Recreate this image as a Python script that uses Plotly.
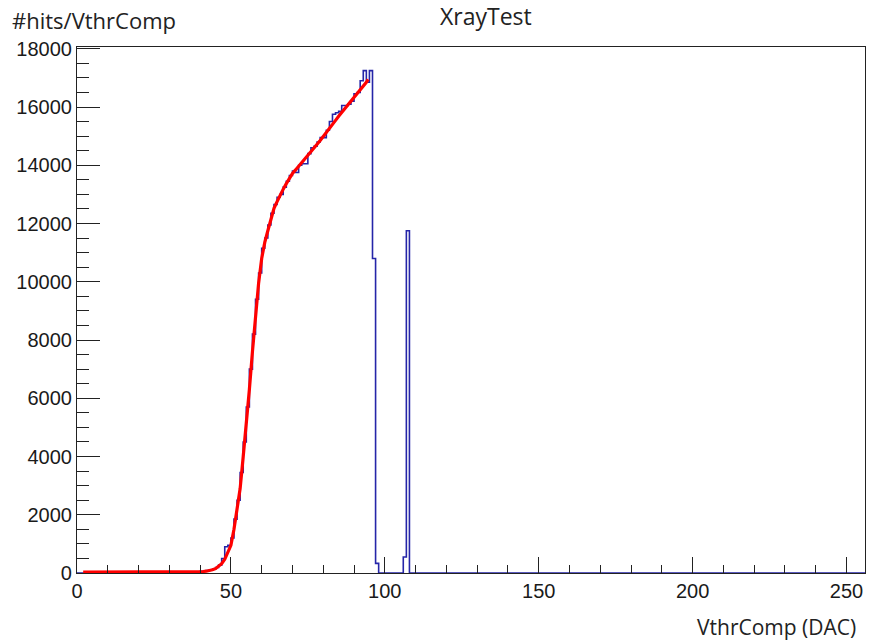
import plotly.graph_objects as go

# ---- data ----
# histogram: bin i covers [i, i+1), 256 bins from 0 to 256
hist_low_bins = list(range(0, 44))
hist_low_vals = [0, 0, 0, 0, 20, 25, 30, 28, 30, 32, 30, 28, 30, 31, 29, 30, 30, 32, 28, 30,
                 31, 30, 29, 30, 31, 30, 28, 30, 32, 30, 30, 29, 31, 30, 30, 32, 35, 38, 40, 45,
                 55, 65, 80, 100]
hist_rise_bins = list(range(44, 98))
hist_rise_vals = [130, 190, 270, 500, 900, 950, 1200, 1850, 2500, 3450,
                  4500, 5700, 7000, 8200, 9400, 10300, 11150, 11500, 11950, 12350,
                  12650, 12900, 13000, 13250, 13450, 13650, 13800, 13750, 14000, 14050,
                  14050, 14400, 14600, 14650, 14800, 14950, 14950, 15200, 15500, 15750,
                  15800, 15850, 16050, 16050, 16100, 16200, 16450, 16500, 16900, 17250,
                  16850, 17250, 10800, 330]
spike_bins = [106, 107]
spike_vals = [550, 11750]
n_bins = 256

fit_x = [2, 10, 20, 30, 38, 39, 40, 41, 42, 43, 44, 45, 46, 47, 48, 49, 50, 51, 52, 53,
         54, 55, 56, 57, 58, 59, 60, 61, 62, 63, 64, 65, 66, 67, 68, 69, 70, 71, 72, 73,
         74, 75, 76, 77, 78, 79, 80, 81, 82, 83, 84, 85, 86, 87, 88, 89, 90, 91, 92, 93,
         94, 94.6]
fit_y = [30, 30, 30, 30, 32, 36, 44, 52, 62, 76, 110, 150, 220, 320, 470, 680, 950, 1500, 2200, 2900,
         4000, 5100, 6300, 7600, 8850, 9950, 10800, 11350, 11750, 12150, 12520, 12750, 12980, 13180, 13370, 13560, 13720, 13840, 13960, 14080,
         14200, 14340, 14480, 14600, 14720, 14850, 14980, 15120, 15260, 15400, 15540, 15680, 15810, 15940, 16060, 16180, 16300, 16430, 16560, 16700,
         16850, 16950]

x_range = [0, 256]
y_range = [0, 18060]

# ---- build histogram contents ----
counts = [0] * n_bins
for b, v in zip(hist_low_bins, hist_low_vals):
    counts[b] = v
for b, v in zip(hist_rise_bins, hist_rise_vals):
    counts[b] = v
for b, v in zip(spike_bins, spike_vals):
    counts[b] = v

edges = list(range(n_bins + 1))
step_y = counts + [counts[-1]]

fig = go.Figure()
fig.add_trace(go.Scatter(x=edges, y=step_y, mode="lines", line_shape="hv",
                         line=dict(color="#2525a8", width=1.6), hoverinfo="skip",
                         showlegend=False))
fig.add_trace(go.Scatter(x=fit_x, y=fit_y, mode="lines",
                         line=dict(color="#ff0000", width=3.2), hoverinfo="skip",
                         showlegend=False))

tick_font = dict(family="Liberation Sans, Arial", size=20, color="#1a1a1a")
fig.update_xaxes(range=x_range, showgrid=False, zeroline=False, automargin=False,
                 showline=True, linecolor="#222222", linewidth=1.2, mirror=True,
                 ticks="inside", ticklen=16, tickwidth=1.2, tickcolor="#222222",
                 tick0=0, dtick=50, tickfont=tick_font, tickformat="d",
                 minor=dict(ticks="inside", ticklen=8, dtick=10, tickwidth=1.2,
                            tickcolor="#222222", showgrid=False))
fig.update_yaxes(range=y_range, showgrid=False, zeroline=False, automargin=False,
                 showline=True, linecolor="#222222", linewidth=1.2, mirror=True,
                 ticks="inside", ticklen=23, tickwidth=1.2, tickcolor="#222222",
                 tick0=0, dtick=2000, tickfont=tick_font, tickformat="d",
                 minor=dict(ticks="inside", ticklen=12, dtick=500, tickwidth=1.2,
                            tickcolor="#222222", showgrid=False))

title_font = dict(family="Open Sans, Noto Sans", size=22, color="#222222")
fig.update_layout(
    width=876, height=641,
    margin=dict(l=77, r=11, t=47, b=68),
    plot_bgcolor="white", paper_bgcolor="white",
    annotations=[
        dict(text="#hits/VthrComp", xref="paper", yref="paper", x=-0.085, y=1.0513,
             xanchor="left", yanchor="middle", showarrow=False, font=title_font),
        dict(text="XrayTest", xref="paper", yref="paper", x=0.519, y=1.058,
             xanchor="center", yanchor="middle", showarrow=False,
             font=dict(family="Open Sans, Noto Sans", size=23, color="#222222")),
        dict(text="VthrComp (DAC)", xref="paper", yref="paper", x=0.991, y=-0.1027,
             xanchor="right", yanchor="middle", showarrow=False,
             font=dict(family="Open Sans, Noto Sans", size=21, color="#222222")),
    ],
)

fig.write_html("out.html", config={"displayModeBar": False},
               post_script="document.body.style.margin='0';document.body.style.padding='0';")
